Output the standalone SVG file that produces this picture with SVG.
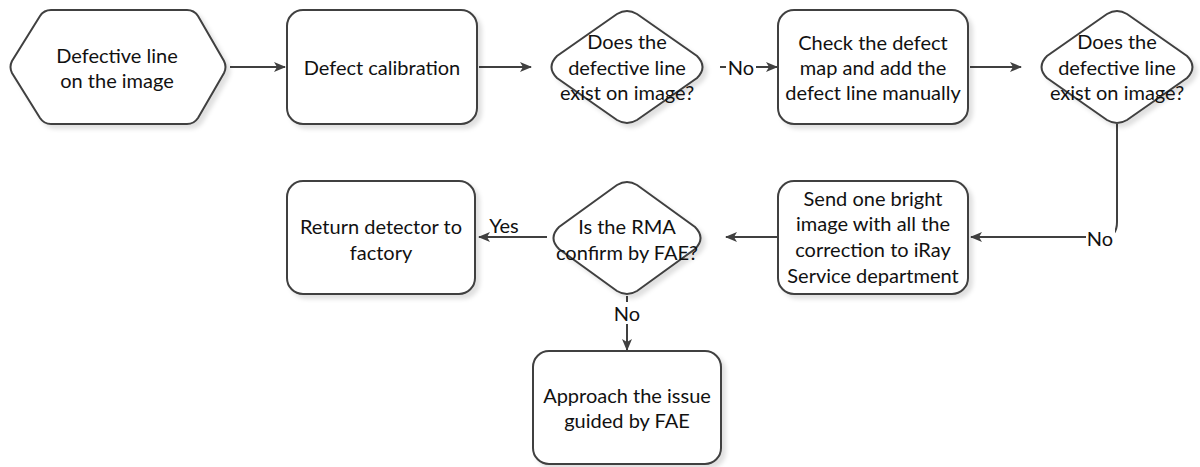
<svg xmlns="http://www.w3.org/2000/svg" width="1200" height="467" viewBox="0 0 1200 467">
  <defs>
    <style>
      .shape { fill: #ffffff; stroke: #404040; stroke-width: 2; filter: url(#shadow); }
      .label { font-family: Lato, "Open Sans", "Liberation Sans", sans-serif; font-size: 20px; fill: #111111; text-anchor: middle; dominant-baseline: central; }
      .edge { fill: none; stroke: #404040; stroke-width: 2; marker-end: url(#arrow); }
      .edge-label { font-family: Lato, "Open Sans", "Liberation Sans", sans-serif; font-size: 20px; fill: #111111; text-anchor: middle; dominant-baseline: central; }
      .label-bg { fill: #ffffff; }
    </style>
    <filter id="shadow" x="-10%" y="-10%" width="130%" height="130%">
      <feDropShadow dx="4" dy="4" stdDeviation="2" flood-color="#000000" flood-opacity="0.12"/>
    </filter>
    <marker id="arrow" viewBox="0 0 12 10" refX="11" refY="5" markerWidth="12" markerHeight="10" markerUnits="userSpaceOnUse" orient="auto">
      <path d="M0,0 L12,5 L0,10 L3,5 Z" fill="#404040"/>
    </marker>
  </defs>

  <!-- connectors -->
  <g id="connectors">
    <path class="edge" d="M230,67 H285"/>
    <path class="edge" d="M479,67 H531"/>
    <path class="edge" d="M720,67 H777"/>
    <path class="edge" d="M970,67 H1021"/>
    <path class="edge" d="M1117,124 V222 Q1117,237 1104,237 H971"/>
    <path class="edge" d="M778,237 H726"/>
    <path class="edge" d="M547,237 H479"/>
    <path class="edge" d="M627,296 V350"/>
    <rect class="label-bg" x="726" y="56" width="30" height="22"/>
    <text class="edge-label" x="741" y="67">No</text>
    <rect class="label-bg" x="1086" y="227" width="29" height="22"/>
    <text class="edge-label" x="1100" y="238">No</text>
    <text class="edge-label" x="504" y="225">Yes</text>
    <rect class="label-bg" x="613" y="302" width="29" height="22"/>
    <text class="edge-label" x="627" y="313">No</text>
  </g>

  <!-- start: defective line on the image -->
  <g id="start">
    <path class="shape" d="M51,10 H187 Q194,10 198,16 L224,61 Q227,67 224,73 L198,118 Q194,124 187,124 H51 Q44,124 40,118 L12,73 Q9,67 12,61 L40,16 Q44,10 51,10 Z"/>
    <text class="label" x="117" y="55">Defective line</text>
    <text class="label" x="117" y="80">on the image</text>
  </g>

  <!-- defect calibration -->
  <g id="calibration">
    <rect class="shape" x="287" y="10" width="190" height="114" rx="16"/>
    <text class="label" x="382" y="67">Defect calibration</text>
  </g>

  <!-- first check -->
  <g id="check1">
    <path class="shape" d="M617,14 Q627,8 637,14 L697,56 Q708,67 697,78 L637,120 Q627,126 617,120 L557,78 Q546,67 557,56 Z"/>
    <text class="label" x="627" y="41">Does the</text>
    <text class="label" x="627" y="67">defective line</text>
    <text class="label" x="627" y="92">exist on image?</text>
  </g>

  <!-- manual defect map edit -->
  <g id="manual">
    <rect class="shape" x="778" y="10" width="190" height="114" rx="16"/>
    <text class="label" x="873" y="42">Check the defect</text>
    <text class="label" x="873" y="67">map and add the</text>
    <text class="label" x="873" y="92">defect line manually</text>
  </g>

  <!-- second check -->
  <g id="check2">
    <path class="shape" d="M1107,14 Q1117,8 1127,14 L1187,56 Q1198,67 1187,78 L1127,120 Q1117,126 1107,120 L1047,78 Q1036,67 1047,56 Z"/>
    <text class="label" x="1117" y="41">Does the</text>
    <text class="label" x="1117" y="67">defective line</text>
    <text class="label" x="1117" y="92">exist on image?</text>
  </g>

  <!-- send image to service -->
  <g id="send">
    <rect class="shape" x="778" y="181" width="190" height="113" rx="16"/>
    <text class="label" x="873" y="198">Send one bright</text>
    <text class="label" x="873" y="223">image with all the</text>
    <text class="label" x="873" y="249">correction to iRay</text>
    <text class="label" x="873" y="275">Service department</text>
  </g>

  <!-- RMA decision -->
  <g id="rma">
    <path class="shape" d="M617,185 Q627,179 637,185 L695,227 Q706,238 695,249 L637,291 Q627,297 617,291 L559,249 Q548,238 559,227 Z"/>
    <text class="label" x="627" y="226">Is the RMA</text>
    <text class="label" x="627" y="252">confirm by FAE?</text>
  </g>

  <!-- return to factory -->
  <g id="return">
    <rect class="shape" x="287" y="181" width="188" height="113" rx="16"/>
    <text class="label" x="381" y="226">Return detector to</text>
    <text class="label" x="381" y="252">factory</text>
  </g>

  <!-- approach guided by FAE -->
  <g id="approach">
    <rect class="shape" x="533" y="351" width="188" height="113" rx="16"/>
    <text class="label" x="627" y="395">Approach the issue</text>
    <text class="label" x="627" y="420">guided by FAE</text>
  </g>
</svg>
